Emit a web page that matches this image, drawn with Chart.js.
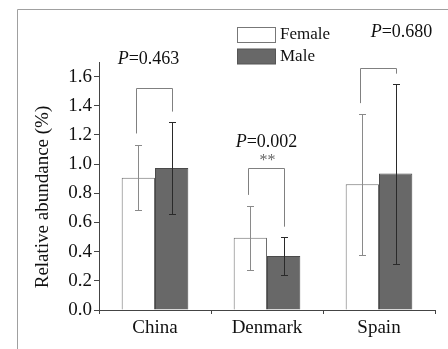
<!DOCTYPE html>
<html lang="en">
<head>
  <meta charset="UTF-8">
  <title>Relative abundance by sex</title>
  <style>
    html, body {
      margin: 0;
      padding: 0;
      background: #fff;
    }
    canvas {
      display: block;
    }
  </style>
</head>
<body>
  <canvas id="chart" width="448" height="349"></canvas>

  <script src="https://cdn.jsdelivr.net/npm/chart.js"></script>
  <script>
    // data
    const countries = ['China', 'Denmark', 'Spain'];
    const femaleMean = [0.907, 0.496, 0.862];
    const maleMean = [0.974, 0.370, 0.935];
    const femaleLow = [0.684, 0.276, 0.375];
    const femaleHigh = [1.132, 0.715, 1.344];
    const maleLow = [0.660, 0.238, 0.318];
    const maleHigh = [1.289, 0.500, 1.550];

    // significance brackets: top, left leg end, right leg end (axis units)
    const bracketTop = [1.52, 0.976, 1.662];
    const bracketLeftEnd = [1.21, 0.789, 1.418];
    const bracketRightEnd = [1.36, 0.571, 1.62];
    const pValues = ['0.463', '0.002', '0.680'];
    const pLabelValue = [1.72, 1.147, 1.905];
    const stars = ['', '**', ''];

    const yTicks = [0, 0.2, 0.4, 0.6, 0.8, 1.0, 1.2, 1.4, 1.6];
    const yTitle = 'Relative abundance (%)';

    const serif = '"Liberation Serif", "Times New Roman", serif';
    const axisColor = '#444';
    // horizontal nudge of each p label relative to its bracket (px)
    const pLabelDx = [-6, 0, 23];

    const overlay = {
      id: 'overlay',
      beforeDraw(chart) {
        const ctx = chart.ctx;
        ctx.save();
        ctx.strokeStyle = '#a0a0a0';
        ctx.lineWidth = 1;
        ctx.beginPath();
        ctx.moveTo(17.5, 349);
        ctx.lineTo(17.5, 9.5);
        ctx.lineTo(448, 9.5);
        ctx.stroke();

        // y axis title, sits a little below the plot centre in the original
        const area = chart.chartArea;
        ctx.translate(43, (area.top + area.bottom) / 2 + 11);
        ctx.rotate(-Math.PI / 2);
        ctx.fillStyle = '#111';
        ctx.font = '19px ' + serif;
        ctx.textAlign = 'center';
        ctx.textBaseline = 'middle';
        ctx.fillText(yTitle, 0, 0);
        ctx.restore();
      },
      afterDatasetsDraw(chart) {
        const ctx = chart.ctx;
        const y = chart.scales.y;
        ctx.save();
        ctx.lineWidth = 1;

        // error bars
        const groups = [
          { meta: chart.getDatasetMeta(0), low: femaleLow, high: femaleHigh, color: '#8a8a8a' },
          { meta: chart.getDatasetMeta(1), low: maleLow, high: maleHigh, color: '#2a2a2a' }
        ];
        groups.forEach(g => {
          ctx.strokeStyle = g.color;
          g.meta.data.forEach((bar, i) => {
            const x = Math.round(bar.x) + 0.5;
            const yl = Math.round(y.getPixelForValue(g.low[i])) + 0.5;
            const yh = Math.round(y.getPixelForValue(g.high[i])) + 0.5;
            ctx.beginPath();
            ctx.moveTo(x, yl);
            ctx.lineTo(x, yh);
            ctx.moveTo(x - 3.5, yl);
            ctx.lineTo(x + 3.5, yl);
            ctx.moveTo(x - 3.5, yh);
            ctx.lineTo(x + 3.5, yh);
            ctx.stroke();
          });
        });

        // brackets and p labels
        const fMeta = chart.getDatasetMeta(0);
        const mMeta = chart.getDatasetMeta(1);
        ctx.strokeStyle = '#808080';
        countries.forEach((c, i) => {
          const xl = Math.round(fMeta.data[i].x) - 1.5;
          const xr = Math.round(mMeta.data[i].x) + 0.5;
          const yt = Math.round(y.getPixelForValue(bracketTop[i])) + 0.5;
          ctx.beginPath();
          ctx.moveTo(xl, y.getPixelForValue(bracketLeftEnd[i]));
          ctx.lineTo(xl, yt);
          ctx.lineTo(xr, yt);
          ctx.lineTo(xr, y.getPixelForValue(bracketRightEnd[i]));
          ctx.stroke();

          const cx = (xl + xr) / 2 + pLabelDx[i];
          const ty = y.getPixelForValue(pLabelValue[i]);
          ctx.fillStyle = '#111';
          ctx.textBaseline = 'middle';
          ctx.font = 'italic 18px ' + serif;
          const pw = ctx.measureText('P').width;
          ctx.font = '18px ' + serif;
          const rest = '=' + pValues[i];
          const rw = ctx.measureText(rest).width;
          const start = cx - (pw + rw) / 2;
          ctx.textAlign = 'left';
          ctx.font = 'italic 18px ' + serif;
          ctx.fillText('P', start, ty);
          ctx.font = '18px ' + serif;
          ctx.fillText(rest, start + pw, ty);
          if (stars[i]) {
            ctx.textAlign = 'center';
            ctx.font = '16px ' + serif;
            ctx.fillStyle = '#666';
            ctx.fillText(stars[i], cx + 1, ty + 18);
          }
        });

        // legend
        const legend = [
          { label: 'Female', fill: '#ffffff', stroke: '#777' },
          { label: 'Male', fill: '#686868', stroke: '#555' }
        ];
        legend.forEach((item, i) => {
          const top = 27 + i * 21.5;
          ctx.fillStyle = item.fill;
          ctx.strokeStyle = item.stroke;
          ctx.fillRect(237.5, top + 0.5, 38, 15);
          ctx.strokeRect(237.5, top + 0.5, 38, 15);
          ctx.fillStyle = '#111';
          ctx.font = '17px ' + serif;
          ctx.textAlign = 'left';
          ctx.textBaseline = 'middle';
          ctx.fillText(item.label, 280, top + 8);
        });
        ctx.restore();
      }
    };

    const ctx = document.getElementById('chart').getContext('2d');
    new Chart(ctx, {
      type: 'bar',
      data: {
        labels: countries,
        datasets: [
          {
            label: 'Female',
            data: femaleMean,
            backgroundColor: '#ffffff',
            borderColor: '#6e6e6e',
            borderWidth: 1
          },
          {
            label: 'Male',
            data: maleMean,
            backgroundColor: '#686868',
            borderColor: '#4a4a4a',
            borderWidth: 1
          }
        ]
      },
      options: {
        responsive: false,
        animation: false,
        categoryPercentage: 0.595,
        barPercentage: 1.0,
        layout: {
          padding: { top: 62, right: 13, left: 0, bottom: 0 }
        },
        plugins: {
          legend: { display: false },
          tooltip: { enabled: false }
        },
        scales: {
          x: {
            grid: {
              display: true,
              drawOnChartArea: false,
              drawTicks: true,
              tickLength: 4,
              color: axisColor
            },
            border: { color: axisColor, width: 1 },
            ticks: {
              color: '#111',
              font: { family: serif, size: 19 },
              padding: 3
            },
            afterFit(scale) {
              scale.height = 39;
            }
          },
          y: {
            min: 0,
            max: 1.7,
            afterBuildTicks(scale) {
              scale.ticks = yTicks.map(v => ({ value: v }));
            },
            grid: {
              display: true,
              drawOnChartArea: false,
              drawTicks: true,
              tickLength: 5,
              color: axisColor
            },
            border: { color: axisColor, width: 1 },
            ticks: {
              color: '#111',
              font: { family: serif, size: 19 },
              padding: 2,
              callback: v => v.toFixed(1)
            },
            afterFit(scale) {
              scale.width = 99;
            }
          }
        }
      },
      plugins: [overlay]
    });
  </script>
</body>
</html>
